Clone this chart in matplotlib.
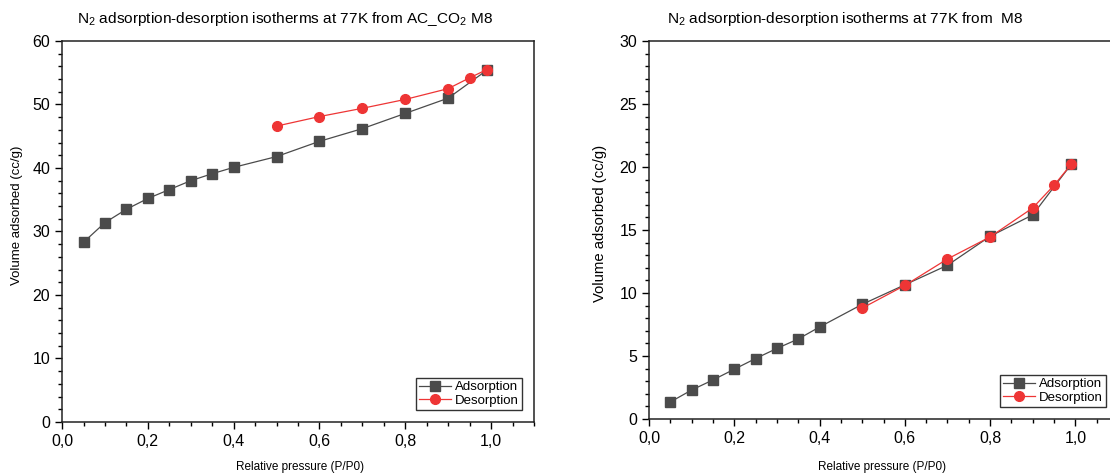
import matplotlib
matplotlib.use('Agg')
import matplotlib.pyplot as plt
from matplotlib.ticker import MultipleLocator, FuncFormatter

plt.rcParams['font.family'] = ['Liberation Sans', 'DejaVu Sans']
plt.rcParams['mathtext.fontset'] = 'custom'
plt.rcParams['mathtext.rm'] = 'Liberation Sans'
plt.rcParams['mathtext.default'] = 'regular'

# left panel: AC_CO2 M8
ads_p = [0.05, 0.10, 0.15, 0.20, 0.25, 0.30, 0.35, 0.40, 0.50, 0.60, 0.70, 0.80, 0.90, 0.99]
ads_v_ac = [28.3, 31.4, 33.5, 35.2, 36.6, 38.0, 39.1, 40.1, 41.8, 44.2, 46.2, 48.6, 51.0, 55.4]
des_p = [0.99, 0.95, 0.90, 0.80, 0.70, 0.60, 0.50]
des_v_ac = [55.5, 54.2, 52.5, 50.8, 49.4, 48.1, 46.6]

# right panel: M8
ads_v_m8 = [1.35, 2.3, 3.1, 3.95, 4.8, 5.6, 6.35, 7.3, 9.1, 10.65, 12.2, 14.5, 16.2, 20.2]
des_v_m8 = [20.2, 18.55, 16.75, 14.45, 12.7, 10.6, 8.8]

gray = '#4b4b4b'
red = '#ee3535'
comma = FuncFormatter(lambda v, pos: ('%.1f' % v).replace('.', ','))


def draw_panel(ax, ads_v, des_v, ymax, ymaj, ymin):
    ax.plot(ads_p, ads_v, color=gray, lw=0.9, marker='s', ms=6.5,
            mfc=gray, mec=gray, label='Adsorption')
    ax.plot(des_p, des_v, color=red, lw=0.9, marker='o', ms=7,
            mfc=red, mec=red, label='Desorption')
    ax.set_xlim(0, 1.1)
    ax.set_ylim(0, ymax)
    ax.xaxis.set_major_locator(MultipleLocator(0.2))
    ax.xaxis.set_minor_locator(MultipleLocator(0.05))
    ax.yaxis.set_major_locator(MultipleLocator(ymaj))
    ax.yaxis.set_minor_locator(MultipleLocator(ymin))
    ax.xaxis.set_major_formatter(comma)
    ax.tick_params(which='major', direction='out', length=5, width=1, labelsize=11.5)
    ax.tick_params(which='minor', direction='out', length=3, width=1)
    for s in ax.spines.values():
        s.set_linewidth(1.1)
        s.set_color('#222222')
    leg = ax.legend(loc='lower right', fontsize=9.5, frameon=True, fancybox=False,
                    edgecolor='black', handlelength=2.4, handletextpad=0.3,
                    borderpad=0.25, labelspacing=0.1, borderaxespad=0.9)
    leg.get_frame().set_linewidth(1.0)


fig = plt.figure(figsize=[11.1, 4.75], dpi=100)

ax1 = fig.add_axes([0.0559, 0.1116, 0.4252, 0.8021])
draw_panel(ax1, ads_v_ac, des_v_ac, 60, 10, 2)

ax2 = fig.add_axes([0.5847, 0.1179, 0.4225, 0.7958])
draw_panel(ax2, ads_v_m8, des_v_m8, 30, 5, 1)

fig.text(285 / 1110, 1 - 19 / 475, 'N$_2$ adsorption-desorption isotherms at 77K from AC_CO$_2$ M8',
         ha='center', va='center', fontsize=11.1)
fig.text(845 / 1110, 1 - 19 / 475, 'N$_2$ adsorption-desorption isotherms at 77K from  M8',
         ha='center', va='center', fontsize=11.1)

fig.text(300 / 1110, 1 - 467 / 475, 'Relative pressure (P/P0)', ha='center', va='center', fontsize=8.5)
fig.text(882 / 1110, 1 - 467 / 475, 'Relative pressure (P/P0)', ha='center', va='center', fontsize=8.5)
fig.text(17 / 1110, 1 - 215 / 475, 'Volume adsorbed (cc/g)', ha='center', va='center',
         rotation=90, fontsize=9.5)
fig.text(600 / 1110, 1 - 223 / 475, 'Volume adsorbed (cc/g)', ha='center', va='center',
         rotation=90, fontsize=10.7)

fig.savefig('out.png', dpi=100)
